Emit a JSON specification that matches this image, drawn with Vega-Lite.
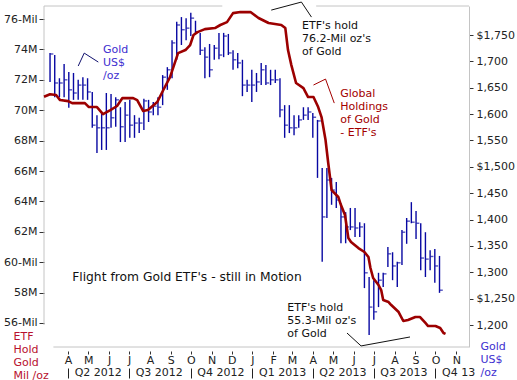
{
  "$schema": "https://vega.github.io/schema/vega-lite/v6.json",
  "width": 425,
  "height": 341,
  "autosize": {"type": "none"},
  "padding": {"left": 44, "top": 6, "right": 48, "bottom": 33},
  "background": "white",
  "config": {
    "view": {"stroke": null},
    "font": "DejaVu Sans",
    "axis": {"labelFont": "DejaVu Sans", "labelFontSize": 11, "labelColor": "#222222", "titleFont": "DejaVu Sans", "grid": false, "domainColor": "#bdbdbd", "tickColor": "#333333"}
  },
  "datasets": {
    "etf": [
      {"d": "2012-02-25", "m": 70.89}, {"d": "2012-03-05", "m": 71.05}, {"d": "2012-03-14", "m": 71.0}, {"d": "2012-03-20", "m": 70.67},
      {"d": "2012-04-01", "m": 70.6}, {"d": "2012-04-07", "m": 70.47}, {"d": "2012-04-26", "m": 70.47}, {"d": "2012-05-02", "m": 70.21},
      {"d": "2012-05-14", "m": 70.21}, {"d": "2012-05-23", "m": 69.75}, {"d": "2012-06-03", "m": 70.01}, {"d": "2012-06-13", "m": 70.28},
      {"d": "2012-06-21", "m": 70.8}, {"d": "2012-07-07", "m": 70.8}, {"d": "2012-07-13", "m": 70.67}, {"d": "2012-07-22", "m": 69.95},
      {"d": "2012-07-29", "m": 70.01}, {"d": "2012-08-12", "m": 70.54}, {"d": "2012-08-21", "m": 71.33}, {"d": "2012-08-31", "m": 72.18},
      {"d": "2012-09-05", "m": 72.84}, {"d": "2012-09-12", "m": 73.76}, {"d": "2012-09-23", "m": 73.96}, {"d": "2012-09-30", "m": 74.29},
      {"d": "2012-10-05", "m": 74.95}, {"d": "2012-10-11", "m": 75.14}, {"d": "2012-10-22", "m": 75.34}, {"d": "2012-11-06", "m": 75.41},
      {"d": "2012-11-14", "m": 75.61}, {"d": "2012-11-24", "m": 75.8}, {"d": "2012-12-03", "m": 76.39}, {"d": "2012-12-14", "m": 76.46},
      {"d": "2012-12-29", "m": 76.46}, {"d": "2013-01-10", "m": 76.07}, {"d": "2013-01-25", "m": 75.74}, {"d": "2013-02-13", "m": 75.61},
      {"d": "2013-02-19", "m": 75.41}, {"d": "2013-02-23", "m": 73.96}, {"d": "2013-02-28", "m": 72.97}, {"d": "2013-03-07", "m": 71.79},
      {"d": "2013-03-18", "m": 71.46}, {"d": "2013-03-25", "m": 70.87}, {"d": "2013-04-02", "m": 70.87}, {"d": "2013-04-09", "m": 70.21},
      {"d": "2013-04-14", "m": 69.55}, {"d": "2013-04-20", "m": 68.04}, {"d": "2013-04-24", "m": 66.53}, {"d": "2013-04-29", "m": 64.75},
      {"d": "2013-05-09", "m": 64.29}, {"d": "2013-05-13", "m": 63.76}, {"d": "2013-05-19", "m": 63.11}, {"d": "2013-05-24", "m": 61.59},
      {"d": "2013-05-28", "m": 61.33}, {"d": "2013-06-08", "m": 60.93}, {"d": "2013-06-17", "m": 60.67}, {"d": "2013-06-23", "m": 60.34},
      {"d": "2013-06-26", "m": 59.62}, {"d": "2013-06-30", "m": 58.96}, {"d": "2013-07-08", "m": 58.5}, {"d": "2013-07-12", "m": 58.17},
      {"d": "2013-07-15", "m": 57.51}, {"d": "2013-07-23", "m": 57.38}, {"d": "2013-07-27", "m": 57.18}, {"d": "2013-08-07", "m": 56.72},
      {"d": "2013-08-14", "m": 56.13}, {"d": "2013-08-21", "m": 56.2}, {"d": "2013-09-01", "m": 56.39}, {"d": "2013-09-08", "m": 56.39},
      {"d": "2013-09-16", "m": 56.0}, {"d": "2013-09-20", "m": 55.8}, {"d": "2013-10-01", "m": 55.8}, {"d": "2013-10-08", "m": 55.67},
      {"d": "2013-10-13", "m": 55.34}, {"d": "2013-10-16", "m": 55.28}
    ],
    "gold": [
      {"d": "2012-03-05", "h": 1716, "l": 1661, "c": 1714}, {"d": "2012-03-12", "h": 1712, "l": 1632, "c": 1659},
      {"d": "2012-03-19", "h": 1668, "l": 1632, "c": 1659}, {"d": "2012-03-26", "h": 1695, "l": 1632, "c": 1665},
      {"d": "2012-04-02", "h": 1680, "l": 1612, "c": 1646}, {"d": "2012-04-09", "h": 1678, "l": 1627, "c": 1640},
      {"d": "2012-04-16", "h": 1665, "l": 1627, "c": 1655}, {"d": "2012-04-23", "h": 1670, "l": 1627, "c": 1655},
      {"d": "2012-04-30", "h": 1668, "l": 1627, "c": 1642}, {"d": "2012-05-07", "h": 1642, "l": 1574, "c": 1579},
      {"d": "2012-05-14", "h": 1598, "l": 1526, "c": 1574}, {"d": "2012-05-21", "h": 1602, "l": 1532, "c": 1574},
      {"d": "2012-05-28", "h": 1640, "l": 1532, "c": 1574}, {"d": "2012-06-04", "h": 1638, "l": 1574, "c": 1593},
      {"d": "2012-06-11", "h": 1632, "l": 1576, "c": 1627}, {"d": "2012-06-18", "h": 1613, "l": 1547, "c": 1576},
      {"d": "2012-06-25", "h": 1623, "l": 1547, "c": 1598}, {"d": "2012-07-02", "h": 1627, "l": 1555, "c": 1579},
      {"d": "2012-07-09", "h": 1598, "l": 1555, "c": 1583}, {"d": "2012-07-16", "h": 1593, "l": 1564, "c": 1583},
      {"d": "2012-07-23", "h": 1629, "l": 1570, "c": 1625}, {"d": "2012-07-30", "h": 1627, "l": 1585, "c": 1604},
      {"d": "2012-08-06", "h": 1623, "l": 1598, "c": 1615}, {"d": "2012-08-13", "h": 1632, "l": 1598, "c": 1613},
      {"d": "2012-08-20", "h": 1674, "l": 1617, "c": 1670}, {"d": "2012-08-27", "h": 1689, "l": 1646, "c": 1684},
      {"d": "2012-09-03", "h": 1740, "l": 1668, "c": 1735}, {"d": "2012-09-10", "h": 1775, "l": 1703, "c": 1769},
      {"d": "2012-09-17", "h": 1784, "l": 1731, "c": 1760}, {"d": "2012-09-24", "h": 1782, "l": 1740, "c": 1763},
      {"d": "2012-10-01", "h": 1792, "l": 1748, "c": 1782}, {"d": "2012-10-08", "h": 1777, "l": 1752, "c": 1756},
      {"d": "2012-10-15", "h": 1754, "l": 1712, "c": 1721}, {"d": "2012-10-22", "h": 1727, "l": 1668, "c": 1708},
      {"d": "2012-10-29", "h": 1733, "l": 1670, "c": 1684}, {"d": "2012-11-05", "h": 1731, "l": 1703, "c": 1725},
      {"d": "2012-11-12", "h": 1754, "l": 1704, "c": 1712}, {"d": "2012-11-19", "h": 1754, "l": 1708, "c": 1748},
      {"d": "2012-11-26", "h": 1752, "l": 1712, "c": 1716}, {"d": "2012-12-03", "h": 1721, "l": 1684, "c": 1703},
      {"d": "2012-12-10", "h": 1716, "l": 1687, "c": 1697}, {"d": "2012-12-17", "h": 1703, "l": 1634, "c": 1655},
      {"d": "2012-12-24", "h": 1665, "l": 1642, "c": 1655}, {"d": "2012-12-31", "h": 1684, "l": 1623, "c": 1655},
      {"d": "2013-01-07", "h": 1678, "l": 1642, "c": 1661}, {"d": "2013-01-14", "h": 1697, "l": 1655, "c": 1684},
      {"d": "2013-01-21", "h": 1693, "l": 1655, "c": 1659}, {"d": "2013-01-28", "h": 1684, "l": 1655, "c": 1665},
      {"d": "2013-02-04", "h": 1684, "l": 1659, "c": 1665}, {"d": "2013-02-11", "h": 1668, "l": 1594, "c": 1608},
      {"d": "2013-02-18", "h": 1617, "l": 1555, "c": 1579}, {"d": "2013-02-25", "h": 1617, "l": 1564, "c": 1574},
      {"d": "2013-03-04", "h": 1598, "l": 1560, "c": 1574}, {"d": "2013-03-11", "h": 1598, "l": 1574, "c": 1589},
      {"d": "2013-03-18", "h": 1613, "l": 1589, "c": 1598}, {"d": "2013-03-25", "h": 1613, "l": 1589, "c": 1604},
      {"d": "2013-04-01", "h": 1602, "l": 1555, "c": 1594}, {"d": "2013-04-08", "h": 1589, "l": 1479, "c": 1587},
      {"d": "2013-04-15", "h": 1498, "l": 1320, "c": 1405}, {"d": "2013-04-22", "h": 1498, "l": 1403, "c": 1475},
      {"d": "2013-04-29", "h": 1479, "l": 1428, "c": 1456}, {"d": "2013-05-06", "h": 1471, "l": 1422, "c": 1437},
      {"d": "2013-05-13", "h": 1431, "l": 1355, "c": 1405}, {"d": "2013-05-20", "h": 1414, "l": 1355, "c": 1386},
      {"d": "2013-05-27", "h": 1422, "l": 1380, "c": 1386}, {"d": "2013-06-03", "h": 1422, "l": 1367, "c": 1384},
      {"d": "2013-06-10", "h": 1395, "l": 1367, "c": 1386}, {"d": "2013-06-17", "h": 1393, "l": 1270, "c": 1299},
      {"d": "2013-06-24", "h": 1291, "l": 1181, "c": 1234}, {"d": "2013-07-01", "h": 1285, "l": 1210, "c": 1225},
      {"d": "2013-07-08", "h": 1299, "l": 1234, "c": 1285}, {"d": "2013-07-15", "h": 1299, "l": 1272, "c": 1297},
      {"d": "2013-07-22", "h": 1348, "l": 1310, "c": 1335}, {"d": "2013-07-29", "h": 1338, "l": 1285, "c": 1312},
      {"d": "2013-08-05", "h": 1320, "l": 1272, "c": 1318}, {"d": "2013-08-12", "h": 1380, "l": 1314, "c": 1376},
      {"d": "2013-08-19", "h": 1403, "l": 1354, "c": 1397}, {"d": "2013-08-26", "h": 1433, "l": 1393, "c": 1395},
      {"d": "2013-09-02", "h": 1416, "l": 1363, "c": 1393}, {"d": "2013-09-09", "h": 1393, "l": 1304, "c": 1327},
      {"d": "2013-09-16", "h": 1376, "l": 1291, "c": 1325}, {"d": "2013-09-23", "h": 1342, "l": 1304, "c": 1330},
      {"d": "2013-09-30", "h": 1344, "l": 1280, "c": 1312}, {"d": "2013-10-07", "h": 1331, "l": 1261, "c": 1266}
    ],
    "notes": [
      {"d": "2012-05-23", "m": 74.36, "kind": "gold", "t": "Gold\nUS$\n/oz"},
      {"d": "2013-03-16", "m": 75.93, "kind": "etf", "t": "ETF's hold\n76.2-Mil oz's\nof Gold"},
      {"d": "2013-05-12", "m": 71.46, "kind": "global", "t": "Global\nHoldings\nof Gold\n- ETF's"},
      {"d": "2013-02-22", "m": 57.38, "kind": "etf", "t": "ETF's hold\n55.3-Mil oz's\nof Gold"}
    ],
    "headline": [
      {"d": "2012-04-07", "m": 59.42, "t": "Flight from Gold ETF's - still in Motion"}
    ],
    "callouts": [
      {"id": "c1", "kind": "goldline", "d": "2012-04-16", "m": 72.91},
      {"id": "c1", "kind": "goldline", "d": "2012-04-25", "m": 73.76},
      {"id": "c1", "kind": "goldline", "d": "2012-05-16", "m": 73.17},
      {"id": "c2", "kind": "etf", "d": "2013-01-29", "m": 76.59},
      {"id": "c2", "kind": "etf", "d": "2013-03-15", "m": 77.12},
      {"id": "c2", "kind": "etf", "d": "2013-03-30", "m": 76.13},
      {"id": "c3", "kind": "global", "d": "2013-04-02", "m": 71.66},
      {"id": "c3", "kind": "global", "d": "2013-04-20", "m": 72.05},
      {"id": "c3", "kind": "global", "d": "2013-05-03", "m": 70.47},
      {"id": "c4", "kind": "etf", "d": "2013-05-22", "m": 55.34},
      {"id": "c4", "kind": "etf", "d": "2013-06-12", "m": 54.49},
      {"id": "c4", "kind": "etf", "d": "2013-08-24", "m": 55.08}
    ],
    "border": [
      {"d": "2012-02-25", "d2": "2012-11-17", "m": 76.86},
      {"d": "2013-04-06", "d2": "2013-11-20", "m": 76.86},
      {"d": "2012-03-10", "d2": "2013-11-20", "m": 54.42}
    ],
    "vborder": [
      {"d": "2012-02-25", "m": 55.87, "m2": 76.86}
    ]
  },
  "layer": [
    {
      "data": {"name": "border"},
      "mark": {"type": "rule", "color": "#c4c4c4", "strokeWidth": 1},
      "encoding": {
        "x": {"field": "d", "type": "temporal", "scale": {"type": "utc"}, "axis": null},
        "x2": {"field": "d2"},
        "y": {"field": "m", "type": "quantitative", "scale": {"domain": [54.42, 76.86], "nice": false, "zero": false}, "axis": null}
      }
    },
    {
      "data": {"name": "vborder"},
      "mark": {"type": "rule", "color": "#c4c4c4", "strokeWidth": 1},
      "encoding": {
        "x": {"field": "d", "type": "temporal", "scale": {"type": "utc"}, "axis": null},
        "y": {"field": "m", "type": "quantitative", "scale": {"domain": [54.42, 76.86], "nice": false, "zero": false}, "axis": null},
        "y2": {"field": "m2"}
      }
    },
    {
      "data": {"name": "gold"},
      "mark": {"type": "rule", "color": "#0808a2", "strokeWidth": 1.4},
      "encoding": {
        "x": {
          "field": "d", "type": "temporal", "scale": {"type": "utc"},
          "axis": {
            "orient": "bottom", "offset": 21, "title": null, "domain": false,
            "values": [
              {"year": 2012, "month": 4, "date": 1, "utc": true}, {"year": 2012, "month": 7, "date": 1, "utc": true},
              {"year": 2012, "month": 10, "date": 1, "utc": true}, {"year": 2013, "month": 1, "date": 1, "utc": true},
              {"year": 2013, "month": 4, "date": 1, "utc": true}, {"year": 2013, "month": 7, "date": 1, "utc": true},
              {"year": 2013, "month": 10, "date": 1, "utc": true}
            ],
            "labelExpr": "(utcyear(datum.value) == 2013 && utcmonth(datum.value) == 9) ? 'Q4 13' : 'Q' + (floor(utcmonth(datum.value) / 3) + 1) + ' ' + utcyear(datum.value)",
            "tickSize": 10, "tickColor": "#222222",
            "labelAlign": "left", "labelOffset": 6, "labelPadding": -12,
            "labelOverlap": false, "labelFlush": false
          }
        },
        "y": {
          "field": "l", "type": "quantitative",
          "scale": {"domain": [1158.3, 1805], "nice": false, "zero": false},
          "axis": {
            "orient": "right",
            "values": [1200, 1250, 1300, 1350, 1400, 1450, 1500, 1550, 1600, 1650, 1700, 1750],
            "labelExpr": "((datum.value == 1750 || datum.value == 1500 || datum.value == 1250) ? '$' : '') + format(datum.value, ',')",
            "tickSize": 4, "labelPadding": 3, "domainColor": "#c4c4c4",
            "title": ["Gold", "US$", "/oz"],
            "titleX": 11, "titleY": 334, "titleAngle": 0, "titleAlign": "left", "titleBaseline": "top",
            "titleColor": "#4030d0", "titleFontWeight": "normal", "titleFontSize": 11, "titleLineHeight": 13
          }
        },
        "y2": {"field": "h"}
      }
    },
    {
      "data": {"name": "gold"},
      "mark": {"type": "tick", "orient": "horizontal", "color": "#0808a2", "size": 3, "thickness": 1.4, "xOffset": 1.8},
      "encoding": {
        "x": {"field": "d", "type": "temporal", "scale": {"type": "utc"}, "axis": null},
        "y": {"field": "c", "type": "quantitative", "scale": {"domain": [1158.3, 1805], "nice": false, "zero": false}, "axis": null}
      }
    },
    {
      "data": {"name": "etf"},
      "mark": {"type": "line", "color": "#9c0000", "strokeWidth": 2.6, "strokeJoin": "round"},
      "encoding": {
        "x": {
          "field": "d", "type": "temporal",
          "scale": {"type": "utc", "domain": [{"year": 2012, "month": 2, "date": 25, "utc": true}, {"year": 2013, "month": 11, "date": 20, "utc": true}]},
          "axis": {
            "orient": "bottom", "title": null, "domain": false,
            "values": [
              {"year": 2012, "month": 4, "date": 1, "utc": true}, {"year": 2012, "month": 5, "date": 1, "utc": true},
              {"year": 2012, "month": 6, "date": 1, "utc": true}, {"year": 2012, "month": 7, "date": 1, "utc": true},
              {"year": 2012, "month": 8, "date": 1, "utc": true}, {"year": 2012, "month": 9, "date": 1, "utc": true},
              {"year": 2012, "month": 10, "date": 1, "utc": true}, {"year": 2012, "month": 11, "date": 1, "utc": true},
              {"year": 2012, "month": 12, "date": 1, "utc": true}, {"year": 2013, "month": 1, "date": 1, "utc": true},
              {"year": 2013, "month": 2, "date": 1, "utc": true}, {"year": 2013, "month": 3, "date": 1, "utc": true},
              {"year": 2013, "month": 4, "date": 1, "utc": true}, {"year": 2013, "month": 5, "date": 1, "utc": true},
              {"year": 2013, "month": 6, "date": 1, "utc": true}, {"year": 2013, "month": 7, "date": 1, "utc": true},
              {"year": 2013, "month": 8, "date": 1, "utc": true}, {"year": 2013, "month": 9, "date": 1, "utc": true},
              {"year": 2013, "month": 10, "date": 1, "utc": true}, {"year": 2013, "month": 11, "date": 1, "utc": true}
            ],
            "labelExpr": "substring(utcFormat(datum.value, '%b'), 0, 1)",
            "tickSize": 7, "tickDash": [0, 4, 3, 10], "tickColor": "#333333",
            "labelPadding": 0, "labelOverlap": false, "labelFlush": false
          }
        },
        "y": {
          "field": "m", "type": "quantitative",
          "scale": {"domain": [54.42, 76.86], "nice": false, "zero": false},
          "axis": {
            "orient": "left", "domain": false,
            "values": [56, 58, 60, 62, 64, 66, 68, 70, 72, 74, 76],
            "labelExpr": "(datum.value == 76 || datum.value == 60 || datum.value == 56) ? datum.value + '-Mil' : datum.value + 'M'",
            "tickSize": 5, "labelPadding": 2,
            "title": ["ETF", "Hold", "Gold", "Mil /oz"],
            "titleX": -31, "titleY": 324, "titleAngle": 0, "titleAlign": "left", "titleBaseline": "top",
            "titleColor": "#b8102e", "titleFontWeight": "normal", "titleFontSize": 11, "titleLineHeight": 13
          }
        }
      }
    },
    {
      "data": {"name": "callouts"},
      "mark": {"type": "line", "strokeWidth": 1},
      "encoding": {
        "x": {"field": "d", "type": "temporal", "scale": {"type": "utc"}, "axis": null},
        "y": {"field": "m", "type": "quantitative", "scale": {"domain": [54.42, 76.86], "nice": false, "zero": false}, "axis": null},
        "detail": {"field": "id"},
        "color": {"field": "kind", "type": "nominal", "legend": null,
          "scale": {"domain": ["gold", "etf", "global", "goldline"], "range": ["#4030d0", "#111111", "#a30000", "#10106e"]}}
      }
    },
    {
      "data": {"name": "notes"},
      "mark": {"type": "text", "align": "left", "baseline": "top", "fontSize": 11, "lineBreak": "\n", "lineHeight": 13},
      "encoding": {
        "x": {"field": "d", "type": "temporal", "scale": {"type": "utc"}, "axis": null},
        "y": {"field": "m", "type": "quantitative", "scale": {"domain": [54.42, 76.86], "nice": false, "zero": false}, "axis": null},
        "text": {"field": "t"},
        "color": {"field": "kind", "type": "nominal", "legend": null,
          "scale": {"domain": ["gold", "etf", "global", "goldline"], "range": ["#4030d0", "#111111", "#a30000", "#10106e"]}}
      }
    },
    {
      "data": {"name": "headline"},
      "mark": {"type": "text", "align": "left", "baseline": "top", "fontSize": 12.3, "color": "#111111"},
      "encoding": {
        "x": {"field": "d", "type": "temporal", "scale": {"type": "utc"}, "axis": null},
        "y": {"field": "m", "type": "quantitative", "scale": {"domain": [54.42, 76.86], "nice": false, "zero": false}, "axis": null},
        "text": {"field": "t"}
      }
    }
  ],
  "resolve": {"scale": {"y": "independent", "color": "independent"}, "axis": {"x": "independent", "y": "independent"}}
}
